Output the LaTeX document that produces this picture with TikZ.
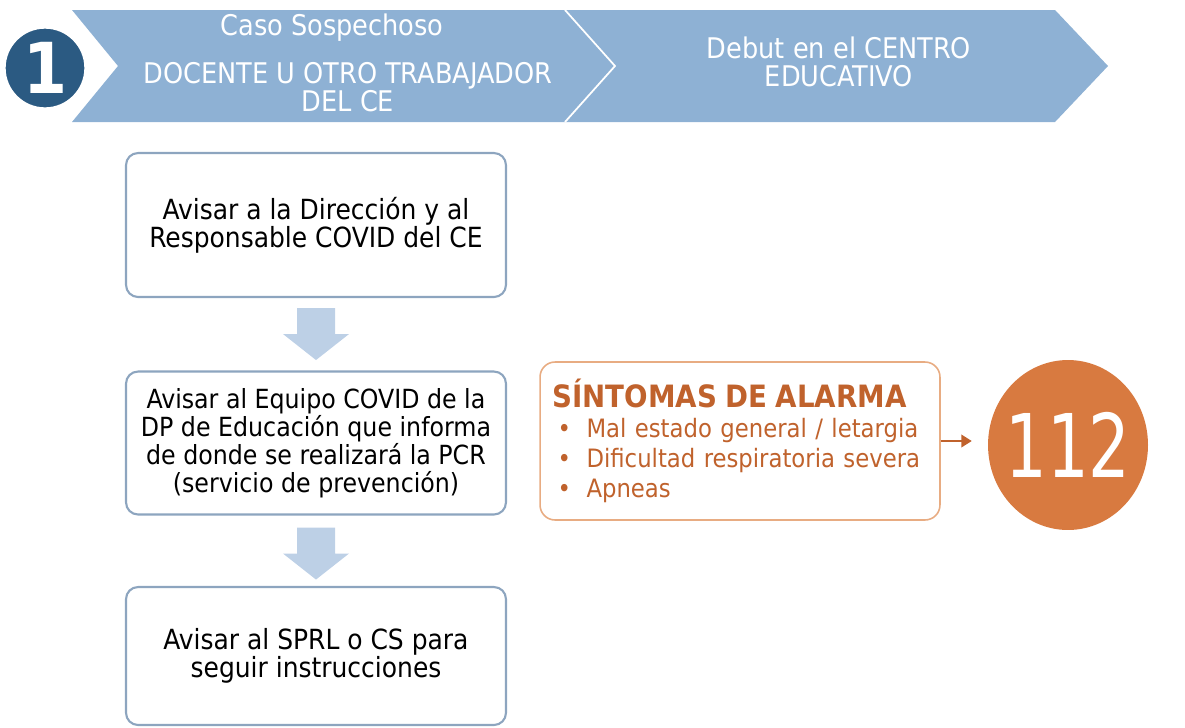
\documentclass[tikz,border=0pt]{standalone}
\usepackage{fontspec}
\setmainfont{DejaVu Sans Condensed}
\usetikzlibrary{positioning}
\usetikzlibrary{calc}
\usetikzlibrary{shapes.geometric}
\usetikzlibrary{arrows.meta}

\definecolor{bannerblue}{HTML}{8EB1D4}
\definecolor{circblue}{HTML}{2B5A82}
\definecolor{boxline}{HTML}{8DA5BF}
\definecolor{arrowblue}{HTML}{BDD0E6}
\definecolor{alarmtext}{HTML}{C0622C}
\definecolor{alarmline}{HTML}{E8AC82}
\definecolor{emergorange}{HTML}{D87A40}

% block arrow pointing down, tip at #1
\newcommand{\blockdown}[1]{%
  \fill[arrowblue] ($(#1)+(-19,-52)$) -- ++(38,0) -- ++(0,26) -- ++(14,0)
    -- (#1) -- ++(-33,-26) -- ++(14,0) -- cycle;}
\newcommand{\bul}{\makebox[0.68cm][l]{\hspace{0.1cm}\textbullet}}

\begin{document}
\begin{tikzpicture}[x=0.02cm,y=-0.02cm]
		\tikzset{bannertext/.style = {text=white, align=center, font=\fontsize{16.2}{15.9}\selectfont}}
		\tikzset{stepbox/.style = {draw=boxline, line width=1.2pt, rounded corners=0.24cm, fill=white,
				minimum width=7.6cm, align=center, font=\fontsize{15.8}{15.9}\selectfont}}
		\tikzset{alarmbox/.style = {draw=alarmline, line width=0.9pt, rounded corners=0.3cm, fill=white,
				minimum width=8cm, minimum height=3.16cm, text width=7.5cm, inner xsep=0.25cm,
				align=left, text=alarmtext, font=\fontsize{14.4}{17}\selectfont}}
		\tikzset{edge/.style = {-{Triangle[length=6pt,width=7pt]}, line width=1.5pt, draw=alarmtext}}
		\useasboundingbox (0,0) rectangle (1185,727);
		
		% banner
		\fill[bannerblue] (72,10) -- (565,10) -- (615,66) -- (565,122) -- (72,122) -- (118,66) -- cycle;
		\fill[bannerblue] (565,10) -- (1055,10) -- (1108,66) -- (1055,122) -- (565,122) -- (615,66) -- cycle;
		\draw[white, line width=1pt] (565,10) -- (615,66) -- (565,122);
		
		\node[circle, fill=circblue, draw=white, line width=3pt, minimum size=1.62cm, text=white,
			font=\fontsize{40}{40}\bfseries\selectfont] (one) at (45,68) {1};
		\node[bannertext] (caso) at (332,28) {Caso Sospechoso};
		\node[bannertext] (docente) at (348,87) {DOCENTE U OTRO TRABAJADOR\\DEL CE};
		\node[bannertext] (debut) at (839,62) {Debut en el CENTRO\\EDUCATIVO};
		
		% steps
		\node[stepbox, minimum height=2.88cm] (avisar) at (316,225)
			{Avisar a la Dirección y al\\Responsable COVID del CE};
		\node[stepbox, minimum height=2.86cm, font=\fontsize{15}{15.9}\selectfont] (equipo) at (316,443)
			{Avisar al Equipo COVID de la\\DP de Educación que informa\\de donde se realizará la PCR\\(servicio de prevención)};
		\node[stepbox, minimum height=2.76cm] (sprl) at (316,656)
			{Avisar al SPRL o CS para\\seguir instrucciones};
		
		\coordinate (tipa) at ($(avisar.south)+(0,62)$);
		\coordinate (tipb) at ($(equipo.south)+(0,64)$);
		\blockdown{tipa}
		\blockdown{tipb}
		
		% alarm
		\node[alarmbox] (alarm) at (740,441)
			{{\fontsize{17.5}{22}\bfseries\selectfont SÍNTOMAS DE ALARMA}\\
			\bul Mal estado general / letargia\\
			\bul Dificultad respiratoria severa\\
			\bul Apneas};
		\node[ellipse, fill=emergorange, minimum width=3.2cm, minimum height=3.4cm, inner sep=0pt,
			text=white, font=\fontsize{50}{50}\selectfont] (emerg) at (1068,445)
			{\makebox[0pt]{\scalebox{0.83}[1]{112}}};
		
		%edges
		\draw[edge, shorten >=9pt] (alarm.east) -- (alarm.east -| emerg.west);
\end{tikzpicture}
\end{document}
